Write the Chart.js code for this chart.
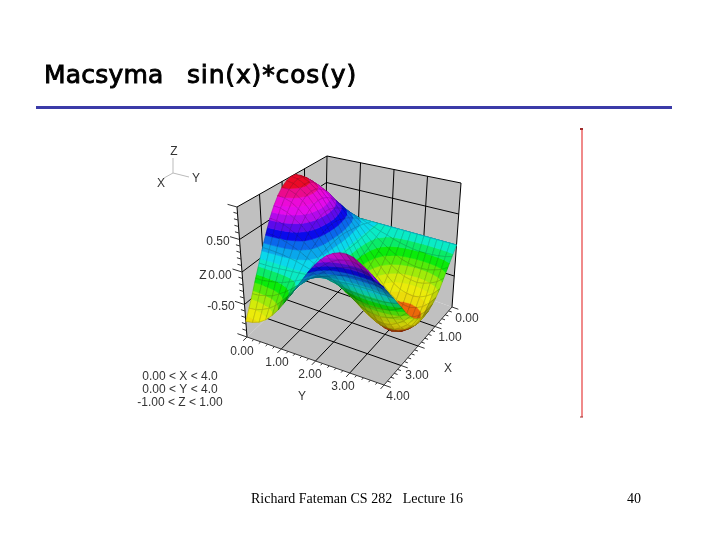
<!DOCTYPE html>
<html>
<head>
<meta charset="utf-8">
<style>
  html, body { margin: 0; padding: 0; background: #fff; }
  canvas { display: block; }
</style>
<script src="https://cdn.jsdelivr.net/npm/chart.js@4"></script>
</head>
<body>
<canvas id="surfaceChart" width="720" height="540"></canvas>
<script>
// Surface values, one row per x, one column per y
const xValues = [0, 0.2, 0.4, 0.6, 0.8, 1, 1.2, 1.4, 1.6, 1.8, 2, 2.2, 2.4, 2.6, 2.8, 3, 3.2, 3.4, 3.6, 3.8, 4];
const yValues = [0, 0.2, 0.4, 0.6, 0.8, 1, 1.2, 1.4, 1.6, 1.8, 2, 2.2, 2.4, 2.6, 2.8, 3, 3.2, 3.4, 3.6, 3.8, 4];
const zRows = [
    [0, 0, 0, 0, 0, 0, 0, 0, 0, 0, 0, 0, 0, 0, 0, 0, 0, 0, 0, 0, 0],
    [.20, .20, .18, .17, .14, .11, .07, .03, -.01, -.05, -.08, -.12, -.15, -.17, -.19, -.20, -.20, -.19, -.18, -.16, -.13],
    [.39, .38, .36, .32, .27, .21, .14, .07, -.01, -.09, -.16, -.23, -.29, -.34, -.37, -.39, -.39, -.38, -.35, -.31, -.25],
    [.56, .55, .52, .46, .39, .30, .20, .10, -.02, -.13, -.24, -.33, -.41, -.48, -.53, -.55, -.56, -.54, -.50, -.45, -.36],
    [.72, .71, .66, .60, .50, .39, .26, .12, -.02, -.17, -.30, -.42, -.53, -.62, -.68, -.71, -.72, -.70, -.65, -.58, -.47],
    [.84, .82, .77, .70, .59, .45, .30, .14, -.03, -.19, -.35, -.50, -.62, -.72, -.79, -.83, -.84, -.81, -.76, -.67, -.55],
    [.93, .91, .86, .77, .65, .50, .33, .16, -.03, -.21, -.39, -.55, -.69, -.80, -.87, -.92, -.93, -.90, -.84, -.74, -.60],
    [.99, .97, .91, .82, .69, .53, .36, .17, -.03, -.23, -.42, -.58, -.73, -.85, -.93, -.98, -.99, -.96, -.89, -.79, -.64],
    [1.00, .98, .92, .83, .70, .54, .36, .17, -.03, -.23, -.42, -.59, -.74, -.86, -.94, -.99, -1.00, -.97, -.90, -.80, -.65],
    [.97, .95, .89, .81, .68, .52, .35, .16, -.03, -.22, -.41, -.57, -.72, -.83, -.91, -.96, -.97, -.94, -.87, -.78, -.63],
    [.91, .89, .84, .76, .64, .49, .33, .15, -.03, -.21, -.38, -.54, -.67, -.78, -.86, -.90, -.91, -.88, -.82, -.73, -.59],
    [.81, .79, .75, .67, .57, .44, .29, .14, -.02, -.19, -.34, -.48, -.60, -.70, -.76, -.80, -.81, -.79, -.73, -.65, -.53],
    [.68, .67, .63, .56, .48, .37, .24, .12, -.02, -.16, -.29, -.40, -.50, -.58, -.64, -.67, -.68, -.66, -.61, -.54, -.44],
    [.52, .51, .48, .43, .36, .28, .19, .09, -.02, -.12, -.22, -.31, -.38, -.45, -.49, -.51, -.52, -.50, -.47, -.42, -.34],
    [.33, .32, .30, .27, .23, .18, .12, .06, -.01, -.08, -.14, -.19, -.24, -.28, -.31, -.33, -.33, -.32, -.30, -.26, -.21],
    [.14, .14, .13, .12, .10, .08, .05, .02, 0, -.03, -.06, -.08, -.10, -.12, -.13, -.14, -.14, -.14, -.13, -.11, -.09],
    [-.06, -.06, -.06, -.05, -.04, -.03, -.02, -.01, 0, .01, .03, .04, .04, .05, .06, .06, .06, .06, .05, .05, .04],
    [-.25, -.25, -.23, -.21, -.18, -.14, -.09, -.04, .01, .06, .11, .15, .19, .22, .24, .25, .25, .24, .23, .20, .16],
    [-.44, -.43, -.40, -.37, -.31, -.24, -.16, -.07, .01, .10, .18, .26, .33, .38, .41, .44, .44, .43, .40, .35, .29],
    [-.61, -.60, -.56, -.51, -.43, -.33, -.22, -.10, .02, .14, .26, .36, .45, .52, .57, .60, .61, .59, .55, .49, .40],
    [-.76, -.74, -.70, -.63, -.53, -.41, -.27, -.13, .02, .17, .32, .45, .56, .65, .71, .75, .76, .74, .68, .61, .49]
];
const gridTicks = [1, 2, 3];
const zGridTicks = [-0.5, 0, 0.5];

// Colour bands, lowest first
const bandHues = [10, 25, 56, 60, 66, 80, 100, 120, 145, 170, 185, 198, 215, 240, 262, 285, 298, 305, 325, 352];

// Where the corners of the plot box land on the page
const floorCorners = { x0y0: [325, 262], x4y0: [247, 337], x0y4: [452, 307], x4y4: [384, 385] };
const topCorners = { x0y0: [327, 156], x4y0: [237, 207], x0y4: [461, 183], x4y4: [372, 245] };

function lerp(a, b, t) { return a + (b - a) * t; }

function project(x, y, z) {
    const u = x / 4, v = y / 4, w = (z + 1) / 2;
    const out = [0, 1].map(k => {
        const f = lerp(lerp(floorCorners.x0y0[k], floorCorners.x4y0[k], u), lerp(floorCorners.x0y4[k], floorCorners.x4y4[k], u), v);
        const t = lerp(lerp(topCorners.x0y0[k], topCorners.x4y0[k], u), lerp(topCorners.x0y4[k], topCorners.x4y4[k], u), v);
        return lerp(f, t, w);
    });
    return { x: out[0], y: out[1] };
}

const datasets = [];

function addLine(points, color, width) {
    datasets.push({
        data: points, showLine: true, fill: false, borderColor: color, borderWidth: width,
        pointRadius: 0, tension: 0
    });
}

function addPoly(points, fillColor, borderColor, width) {
    datasets.push({
        data: points.concat([points[0]]), showLine: true, fill: 'shape', backgroundColor: fillColor,
        borderColor: borderColor, borderWidth: width, pointRadius: 0, tension: 0
    });
}

function box3d(list) { return list.map(p => project(p[0], p[1], p[2])); }

// Walls and floor
const wallGray = '#c0c0c0';
addPoly(box3d([[0, 0, -1], [4, 0, -1], [4, 0, 1], [0, 0, 1]]), wallGray, wallGray, 0);
addPoly(box3d([[0, 0, -1], [0, 4, -1], [0, 4, 1], [0, 0, 1]]), wallGray, wallGray, 0);
addPoly(box3d([[0, 0, -1], [4, 0, -1], [4, 4, -1], [0, 4, -1]]), wallGray, wallGray, 0);

gridTicks.forEach(t => {
    addLine(box3d([[t, 0, -1], [t, 0, 1]]), '#000', 1);
    addLine(box3d([[0, t, -1], [0, t, 1]]), '#000', 1);
    addLine(box3d([[t, 0, -1], [t, 4, -1]]), '#000', 1);
    addLine(box3d([[0, t, -1], [4, t, -1]]), '#000', 1);
});
zGridTicks.forEach(t => {
    addLine(box3d([[4, 0, t], [0, 0, t], [0, 4, t]]), '#000', 1);
});
addLine(box3d([[4, 0, 1], [0, 0, 1], [0, 4, 1]]), '#000', 1);
addLine(box3d([[0, 0, -1], [0, 0, 1]]), '#000', 1);
addLine(box3d([[4, 0, -1], [4, 0, 1]]), '#000', 1);
addLine(box3d([[0, 4, -1], [0, 4, 1]]), '#000', 1);

// Cut a cell down to the part inside one colour band
function clipAt(poly, level, keepAbove) {
    const out = [];
    poly.forEach((a, i) => {
        const b = poly[(i + 1) % poly.length];
        const aIn = keepAbove ? a[2] >= level : a[2] <= level;
        const bIn = keepAbove ? b[2] >= level : b[2] <= level;
        if (aIn) out.push(a);
        if (aIn !== bIn) {
            const t = (level - a[2]) / (b[2] - a[2]);
            out.push([lerp(a[0], b[0], t), lerp(a[1], b[1], t), level]);
        }
    });
    return out;
}

// Surface, back to front
const bandSize = 0.1;
const view = [0.55, 0.55, 0.63];

for (let i = 0; i < xValues.length - 1; i++) {
    for (let j = 0; j < yValues.length - 1; j++) {
        const cell = [
            [xValues[i], yValues[j], zRows[i][j]],
            [xValues[i + 1], yValues[j], zRows[i + 1][j]],
            [xValues[i + 1], yValues[j + 1], zRows[i + 1][j + 1]],
            [xValues[i], yValues[j + 1], zRows[i][j + 1]]
        ];
        const slopeX = 2 * ((cell[1][2] + cell[2][2]) - (cell[0][2] + cell[3][2])) / 2 / (cell[1][0] - cell[0][0]);
        const slopeY = 2 * ((cell[2][2] + cell[3][2]) - (cell[0][2] + cell[1][2])) / 2 / (cell[3][1] - cell[0][1]);
        const len = Math.hypot(slopeX, slopeY, 1);
        const facing = Math.abs(-slopeX * view[0] - slopeY * view[1] + view[2]) / len;
        const shade = Math.min(0.96, 0.6 + 1.0 * facing);

        bandHues.forEach((hue, b) => {
            const lo = -1 + b * bandSize, hi = lo + bandSize;
            let part = clipAt(cell, lo, true);
            if (part.length) part = clipAt(part, hi, false);
            if (part.length < 3) return;
            const color = 'hsl(' + hue + ', 92%, ' + (50 * shade) + '%)';
            addPoly(box3d(part), color, color, 0.6);
        });
        addPoly(box3d(cell), 'rgba(0,0,0,0)', 'rgba(0,0,0,0.28)', 0.5);
    }
}

// Axis edges and tick marks
addLine(box3d([[4, 0, -1], [4, 4, -1], [0, 4, -1]]), '#333', 1);
for (let t = 0; t <= 20; t++) {
    const pos = t * 0.2;
    const len = t % 5 === 0 ? 0.2 : 0.1;
    addLine(box3d([[4, pos, -1], [4 + len, pos, -1]]), '#333', 1);
    addLine(box3d([[pos, 4, -1], [pos, 4 + len, -1]]), '#333', 1);
}
for (let t = 0; t <= 20; t++) {
    const pos = -1 + t * 0.1;
    const len = t % 5 === 0 ? 0.28 : 0.12;
    addLine(box3d([[4, 0, pos], [4, -len, pos]]), '#333', 1);
}

// Little orientation triad, slide rule and right hand bar
addLine([{ x: 173, y: 173 }, { x: 173, y: 158 }], '#bbb', 1);
addLine([{ x: 173, y: 173 }, { x: 164, y: 178 }], '#bbb', 1);
addLine([{ x: 173, y: 173 }, { x: 189, y: 177 }], '#bbb', 1);
addLine([{ x: 36, y: 107.5 }, { x: 672, y: 107.5 }], '#3b3ba8', 3);
addLine([{ x: 582, y: 128 }, { x: 582, y: 417 }], '#f08a8a', 2);
addLine([{ x: 580, y: 129 }, { x: 583, y: 129 }], '#a02a2a', 2);
addLine([{ x: 580, y: 417 }, { x: 583, y: 417 }], '#a02a2a', 1);

// Text
const plotFont = '12px "Liberation Sans"';
const plotTexts = [
    ['Z', 174, 152], ['X', 161, 184], ['Y', 196, 179],
    ['0.50', 218, 242], ['0.00', 220, 276], ['-0.50', 221, 307], ['Z', 203, 276],
    ['0.00', 242, 352], ['1.00', 277, 363], ['2.00', 310, 375], ['3.00', 343, 387], ['Y', 302, 397],
    ['0.00', 467, 319], ['1.00', 450, 338], ['3.00', 417, 376], ['4.00', 398, 397], ['X', 448, 369],
    ['0.00 < X < 4.0', 180, 377], ['0.00 < Y < 4.0', 180, 390], ['-1.00 < Z < 1.00', 180, 403]
];

const textPlugin = {
    id: 'slideText',
    afterDraw(chart) {
        const ctx = chart.ctx;
        ctx.save();
        ctx.fillStyle = '#333';
        ctx.textAlign = 'center';
        ctx.textBaseline = 'middle';
        ctx.font = plotFont;
        plotTexts.forEach(t => ctx.fillText(t[0], t[1], t[2]));

        ctx.textAlign = 'left';
        ctx.textBaseline = 'alphabetic';
        ctx.fillStyle = '#000';
        ctx.font = '14px "Liberation Serif"';
        ctx.fillText('Richard Fateman CS 282   Lecture 16', 251, 503);
        ctx.fillText('40', 627, 503);

        ctx.font = '25px "DejaVu Sans"';
        ctx.strokeStyle = '#000';
        ctx.lineWidth = 0.9;
        ctx.letterSpacing = '0.2px';
        ctx.fillText('Macsyma', 44, 83);
        ctx.strokeText('Macsyma', 44, 83);
        ctx.letterSpacing = '0.85px';
        ctx.fillText('sin(x)*cos(y)', 187, 83);
        ctx.strokeText('sin(x)*cos(y)', 187, 83);
        ctx.restore();
    }
};

// Chart.js paints the first dataset last, so flip the list
new Chart(document.getElementById('surfaceChart'), {
    type: 'scatter',
    data: { datasets: datasets.reverse() },
    plugins: [textPlugin],
    options: {
        responsive: false,
        animation: false,
        events: [],
        layout: { padding: 0 },
        plugins: {
            legend: { display: false },
            title: { display: false },
            tooltip: { enabled: false }
        },
        scales: {
            x: { type: 'linear', min: 0, max: 720, display: false },
            y: { type: 'linear', min: 0, max: 540, reverse: true, display: false }
        }
    }
});
</script>
</body>
</html>
